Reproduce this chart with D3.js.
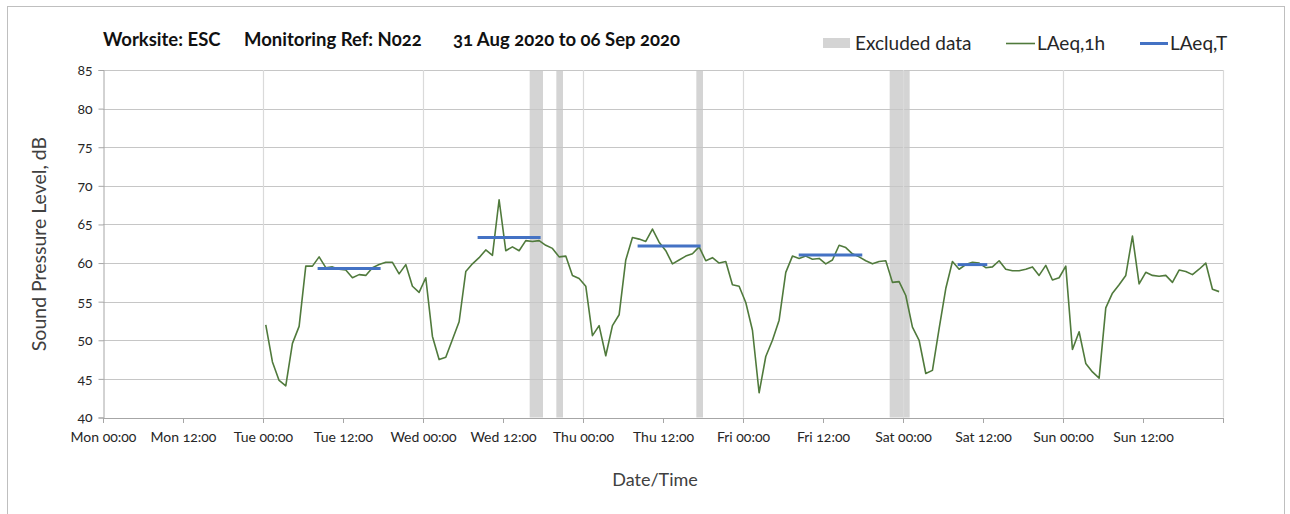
<!DOCTYPE html>
<html>
<head>
<meta charset="utf-8">
<script src="https://cdn.jsdelivr.net/npm/d3@7"></script>
<style>
  body { margin: 0; background: #fff; }
  svg text { font-family: Lato, "Open Sans", sans-serif; font-variant-numeric: oldstyle-nums; fill: #262626; }
</style>
</head>
<body>
<script>
// hourly LAeq,1h values, Tue 01 Sep 00:25 onwards, one row per day
var laeqStart = "2020-09-01T00:25:00Z";
var laeq1h = [
  52.0, 47.2, 44.8, 44.1, 49.6, 51.8, 59.6, 59.6, 60.8, 59.4, 59.5, 59.2, 59.1, 58.1, 58.5, 58.4, 59.4, 59.8, 60.1, 60.1, 58.6, 59.8, 57.0, 56.2, // Tue
  58.1, 50.5, 47.5, 47.8, 50.1, 52.4, 58.9, 59.9, 60.7, 61.7, 61.0, 68.2, 61.6, 62.1, 61.6, 62.9, 62.8, 62.9, 62.3, 61.9, 60.8, 60.9, 58.4, 58.0, // Wed
  57.0, 50.6, 51.9, 48.0, 51.9, 53.3, 60.4, 63.3, 63.1, 62.8, 64.4, 62.7, 61.6, 59.9, 60.4, 60.9, 61.2, 62.1, 60.3, 60.7, 60.0, 60.2, 57.2, 57.0, // Thu
  54.9, 51.3, 43.2, 47.9, 50.0, 52.6, 58.8, 60.9, 60.6, 60.9, 60.5, 60.6, 59.9, 60.4, 62.3, 62.0, 61.2, 60.8, 60.3, 59.9, 60.2, 60.3, 57.5, 57.6, // Fri
  55.8, 51.7, 50.0, 45.7, 46.1, 51.5, 56.7, 60.2, 59.2, 59.8, 60.1, 60.0, 59.4, 59.5, 60.3, 59.2, 59.0, 59.0, 59.2, 59.5, 58.4, 59.7, 57.8, 58.1, // Sat
  59.6, 48.8, 51.1, 47.0, 45.9, 45.1, 54.2, 56.1, 57.2, 58.4, 63.5, 57.3, 58.8, 58.4, 58.3, 58.4, 57.5, 59.1, 58.9, 58.5, 59.2, 60.0, 56.6, 56.3  // Sun
];

// LAeq,T daytime periods
var periodStart = ["2020-09-01T08:25Z", "2020-09-02T08:25Z", "2020-09-03T08:25Z", "2020-09-04T08:35Z", "2020-09-05T08:25Z"];
var periodEnd   = ["2020-09-01T17:25Z", "2020-09-02T17:25Z", "2020-09-03T17:25Z", "2020-09-04T17:40Z", "2020-09-05T12:25Z"];
var laeqT       = [59.3, 63.3, 62.2, 61.05, 59.8];

// excluded data periods
var exclStart = ["2020-09-02T16:00Z", "2020-09-02T20:00Z", "2020-09-03T17:00Z", "2020-09-04T22:00Z"];
var exclEnd   = ["2020-09-02T18:00Z", "2020-09-02T21:00Z", "2020-09-03T18:00Z", "2020-09-05T01:00Z"];

var titleParts = ["Worksite: ESC", "Monitoring Ref: N022", "31 Aug 2020 to 06 Sep 2020"];
var yTicks = [40, 45, 50, 55, 60, 65, 70, 75, 80, 85];

var width = 1290,
    height = 514;

var svg = d3.select("body").append("svg")
  .attr("width", width)
  .attr("height", height);

// outer frame
svg.append("rect")
  .attr("x", 7.5).attr("y", 6.5)
  .attr("width", 1277).attr("height", 520)
  .style("fill", "none")
  .style("stroke", "#bfbfbf")
  .style("stroke-width", 1);

var x = d3.scaleUtc()
  .domain([new Date("2020-08-31T00:00:00Z"), new Date("2020-09-07T00:00:00Z")])
  .range([103, 1223]);

var y = d3.scaleLinear()
  .domain([40, 85])
  .range([417.5, 70]);

var t0 = new Date(laeqStart).getTime();
var series = laeq1h.map(function(v, i) {
  return { t: new Date(t0 + i * 3600e3), v: v };
});

var g = svg.append("g");

// excluded bands
g.append("g").selectAll("rect")
  .data(exclStart.map(function(s, i) { return [new Date(s), new Date(exclEnd[i])]; }))
  .enter().append("rect")
  .attr("x", function(d) { return x(d[0]); })
  .attr("width", function(d) { return x(d[1]) - x(d[0]); })
  .attr("y", y(85))
  .attr("height", y(40) - y(85))
  .style("fill", "#d4d4d4");

// horizontal grid
g.append("g").selectAll("line")
  .data(yTicks.filter(function(d) { return d > 40; }))
  .enter().append("line")
  .attr("x1", x.range()[0]).attr("x2", x.range()[1])
  .attr("y1", function(d) { return Math.round(y(d)) + 0.5; })
  .attr("y2", function(d) { return Math.round(y(d)) + 0.5; })
  .style("stroke", "#c6c6c6")
  .style("stroke-width", 1);

// vertical grid at each midnight
g.append("g").selectAll("line")
  .data(x.ticks(d3.utcDay.every(1)).slice(1))
  .enter().append("line")
  .attr("x1", function(d) { return Math.round(x(d)) + 0.5; })
  .attr("x2", function(d) { return Math.round(x(d)) + 0.5; })
  .attr("y1", y(85)).attr("y2", y(40))
  .style("stroke", "#dadada")
  .style("stroke-width", 1.2);

// y axis
var yAxis = g.append("g")
  .attr("transform", "translate(" + (x.range()[0] + 0.5) + ",0)")
  .call(d3.axisLeft(y).tickValues(yTicks).tickSize(5).tickPadding(6));
yAxis.selectAll("path, line").style("stroke", "#a6a6a6");
yAxis.selectAll("text")
  .style("font-size", "14px")
  .style("font-family", "Lato, sans-serif")
  .attr("fill", "#404040");

// x axis
var xAxis = g.append("g")
  .attr("transform", "translate(0," + (y(40) + 0.5) + ")")
  .call(d3.axisBottom(x)
    .ticks(d3.utcHour.every(12))
    .tickFormat(d3.utcFormat("%a %H:%M"))
    .tickSize(5)
    .tickPadding(9)
    .tickSizeOuter(5));
xAxis.selectAll("path, line").style("stroke", "#a6a6a6");
xAxis.selectAll(".tick").filter(function(d) { return d >= x.domain()[1]; })
  .select("text").remove();
xAxis.selectAll("text")
  .style("font-size", "14px")
  .style("font-family", "Lato, sans-serif")
  .attr("fill", "#404040");

// LAeq,1h line
g.append("path")
  .datum(series)
  .attr("d", d3.line()
    .x(function(d) { return x(d.t); })
    .y(function(d) { return y(d.v); }))
  .style("fill", "none")
  .style("stroke", "#507a3c")
  .style("stroke-width", 1.6)
  .style("stroke-linejoin", "round");

// LAeq,T segments
g.append("g").selectAll("line")
  .data(laeqT.map(function(v, i) { return { a: new Date(periodStart[i]), b: new Date(periodEnd[i]), v: v }; }))
  .enter().append("line")
  .attr("x1", function(d) { return x(d.a); })
  .attr("x2", function(d) { return x(d.b); })
  .attr("y1", function(d) { return y(d.v); })
  .attr("y2", function(d) { return y(d.v); })
  .style("stroke", "#4472c4")
  .style("stroke-width", 3)
  .style("stroke-linecap", "square");

// title
var titleX = [103, 244, 453];
svg.append("g").selectAll("text")
  .data(titleParts)
  .enter().append("text")
  .attr("x", function(d, i) { return titleX[i]; })
  .attr("y", 46)
  .style("font-size", "18.5px")
  .style("font-weight", "bold")
  .style("fill", "#111")
  .text(function(d) { return d; });

// legend
var legend = svg.append("g");
legend.append("rect")
  .attr("x", 823).attr("y", 38).attr("width", 27).attr("height", 10)
  .style("fill", "#d4d4d4");
legend.append("text").attr("x", 855).attr("y", 49.5).style("font-size", "19px").text("Excluded data");
legend.append("line")
  .attr("x1", 1006).attr("x2", 1035).attr("y1", 43.5).attr("y2", 43.5)
  .style("stroke", "#507a3c").style("stroke-width", 1.6);
legend.append("text").attr("x", 1037).attr("y", 49.5).style("font-size", "19px").text("LAeq,1h");
legend.append("line")
  .attr("x1", 1140).attr("x2", 1168).attr("y1", 43.5).attr("y2", 43.5)
  .style("stroke", "#4472c4").style("stroke-width", 3);
legend.append("text").attr("x", 1170).attr("y", 49.5).style("font-size", "19px").text("LAeq,T");

// axis titles
svg.append("text")
  .attr("transform", "translate(46,244) rotate(-90)")
  .attr("text-anchor", "middle")
  .style("font-size", "19.5px")
  .style("fill", "#404040")
  .text("Sound Pressure Level, dB");

svg.append("text")
  .attr("x", 655).attr("y", 486)
  .attr("text-anchor", "middle")
  .style("font-size", "18px")
  .style("fill", "#404040")
  .text("Date/Time");
</script>
</body>
</html>
